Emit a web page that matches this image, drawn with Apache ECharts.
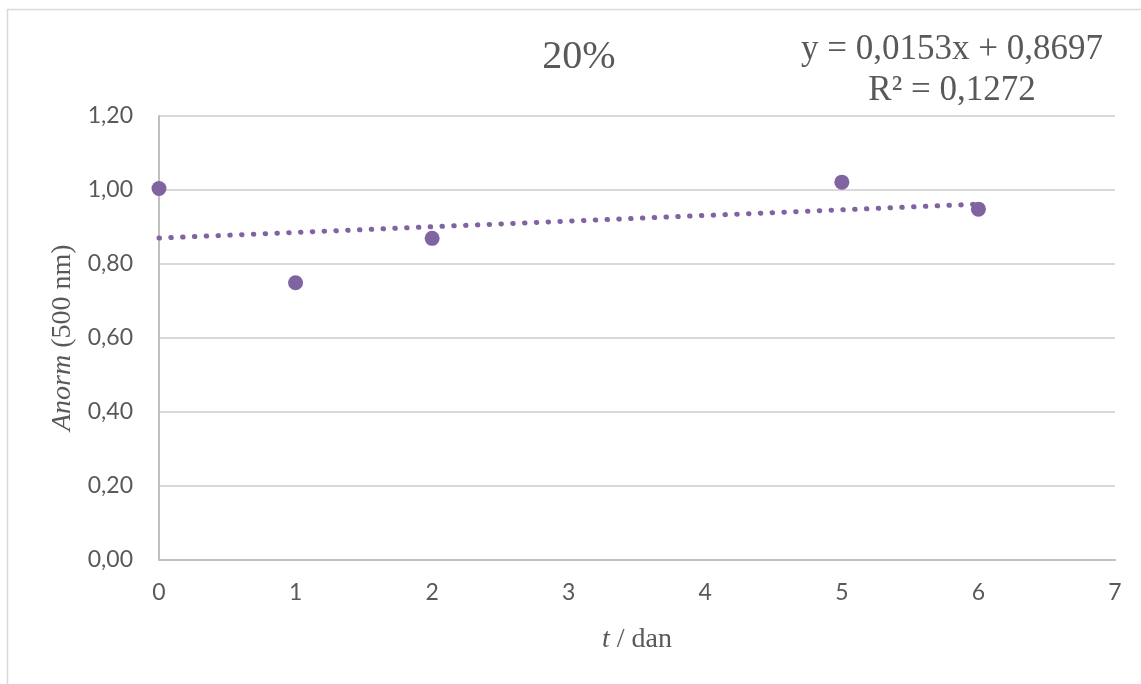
<!DOCTYPE html>
<html>
<head>
<meta charset="utf-8">
<script src="https://cdn.jsdelivr.net/npm/echarts@6/dist/echarts.min.js"></script>
<style>html,body{margin:0;padding:0;background:#fff;}#c{width:1141px;height:684px;}</style>
</head>
<body>
<div id="c"></div>
<script>
// Data
const days = [0, 1, 2, 5, 6];
const anorm = [1.004, 0.749, 0.869, 1.021, 0.948];
// Trendline as shown on the chart
const slope = 0.0153;
const intercept = 0.8697;
const trendX = [0, 6];
const yTicks = { min: 0, max: 1.2, interval: 0.2 };
const xTicks = { min: 0, max: 7, interval: 1 };
const titleText = '20%';
const eqText = 'y = 0,0153x + 0,8697';
const r2Text = 'R² = 0,1272';

const purple = '#8064A2';
const points = days.map((d, i) => [d, anorm[i]]);
const trend = trendX.map(x => [x, intercept + slope * x]);

const chart = echarts.init(document.getElementById('c'), null, { renderer: 'canvas' });
chart.setOption({
  backgroundColor: '#ffffff',
  animation: false,
  grid: { left: 159, top: 116, width: 956, height: 443.5, containLabel: false },
  graphic: [
    { type: 'polyline', shape: { points: [[7.5, 690], [7.5, 9.5], [1150, 9.5]] }, style: { stroke: '#d9d9d9', lineWidth: 1.5, fill: null }, silent: true },
    { type: 'text', x: 579, y: 57, style: { text: titleText, font: '40px "Liberation Serif", serif', fill: '#595959', textAlign: 'center', textVerticalAlign: 'middle' } },
    { type: 'text', x: 952, y: 50, style: { text: eqText, font: '35px "Liberation Serif", serif', fill: '#595959', textAlign: 'center', textVerticalAlign: 'middle' } },
    { type: 'text', x: 952, y: 91, style: { text: r2Text, font: '35px "Liberation Serif", serif', fill: '#595959', textAlign: 'center', textVerticalAlign: 'middle' } }
  ],
  xAxis: {
    type: 'value', min: xTicks.min, max: xTicks.max, interval: xTicks.interval,
    axisLine: { show: true, lineStyle: { color: '#bfbfbf', width: 2 } },
    axisTick: { show: false },
    splitLine: { show: false },
    axisLabel: { color: '#595959', fontSize: 23, fontFamily: 'Lato, "Open Sans", sans-serif', margin: 22 },
    name: '{i|t} / dan', nameLocation: 'middle', nameGap: 66,
    nameTextStyle: {
      color: '#595959', fontSize: 28, fontFamily: '"Liberation Serif", serif',
      rich: { i: { fontStyle: 'italic', fontSize: 28, fontFamily: '"Liberation Serif", serif', color: '#595959' } }
    }
  },
  yAxis: {
    type: 'value', min: yTicks.min, max: yTicks.max, interval: yTicks.interval,
    axisLine: { show: true, lineStyle: { color: '#bfbfbf', width: 2 } },
    axisTick: { show: false },
    splitLine: { show: true, lineStyle: { color: '#d9d9d9', width: 2 } },
    axisLabel: {
      color: '#595959', fontSize: 23, fontFamily: 'Lato, "Open Sans", sans-serif', margin: 26,
      formatter: v => v.toFixed(2).replace('.', ',')
    },
    name: '{i|Anorm} (500 nm)', nameLocation: 'middle', nameGap: 82, nameRotate: 90,
    nameTextStyle: {
      color: '#595959', fontSize: 28, fontFamily: '"Liberation Serif", serif',
      rich: { i: { fontStyle: 'italic', fontSize: 28, fontFamily: '"Liberation Serif", serif', color: '#595959' } }
    }
  },
  series: [
    {
      type: 'line', data: trend, symbol: 'none', z: 2,
      lineStyle: { color: purple, width: 5, type: [0.5, 11.3], cap: 'round' }
    },
    {
      type: 'scatter', data: points, symbol: 'circle', symbolSize: 15, z: 3,
      itemStyle: { color: purple, opacity: 1 }
    }
  ]
});
</script>
</body>
</html>
